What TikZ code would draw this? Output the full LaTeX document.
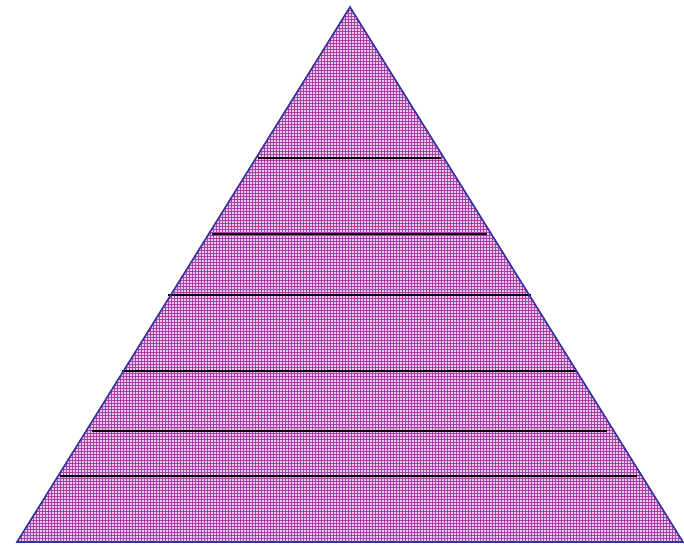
\documentclass[tikz,border=0pt]{standalone}
\usetikzlibrary{patterns}
\definecolor{pinkbg}{RGB}{238,200,238}
\definecolor{gridpurple}{RGB}{165,65,165}
\definecolor{edgeblue}{RGB}{50,50,160}
\tikzset{
  tier/.style={draw=black, line width=1.8pt},
  outline/.style={draw=edgeblue, line width=1.6pt, line join=miter}
}
\begin{document}
\begin{tikzpicture}[x=1pt,y=-1pt]
\useasboundingbox (0,0) rectangle (684,544);
\coordinate (apex) at (350,7);
\coordinate (bl) at (17,542);
\coordinate (br) at (683,542);
\fill[pinkbg] (apex) -- (bl) -- (br) -- cycle;
\fill[pattern=grid, pattern color=gridpurple] (apex) -- (bl) -- (br) -- cycle;
\foreach \n/\y/\a/\b in {1/158/258/441, 2/234/212/487, 3/295/168/531, 4/371/122/577, 5/431/92/607, 6/476/60/637}{
  \coordinate (l\n) at (\a,\y);
  \coordinate (r\n) at (\b,\y);
  \draw[tier] (l\n) -- (r\n);
}
\draw[outline] (apex) -- (bl) -- (br) -- cycle;
\end{tikzpicture}
\end{document}
